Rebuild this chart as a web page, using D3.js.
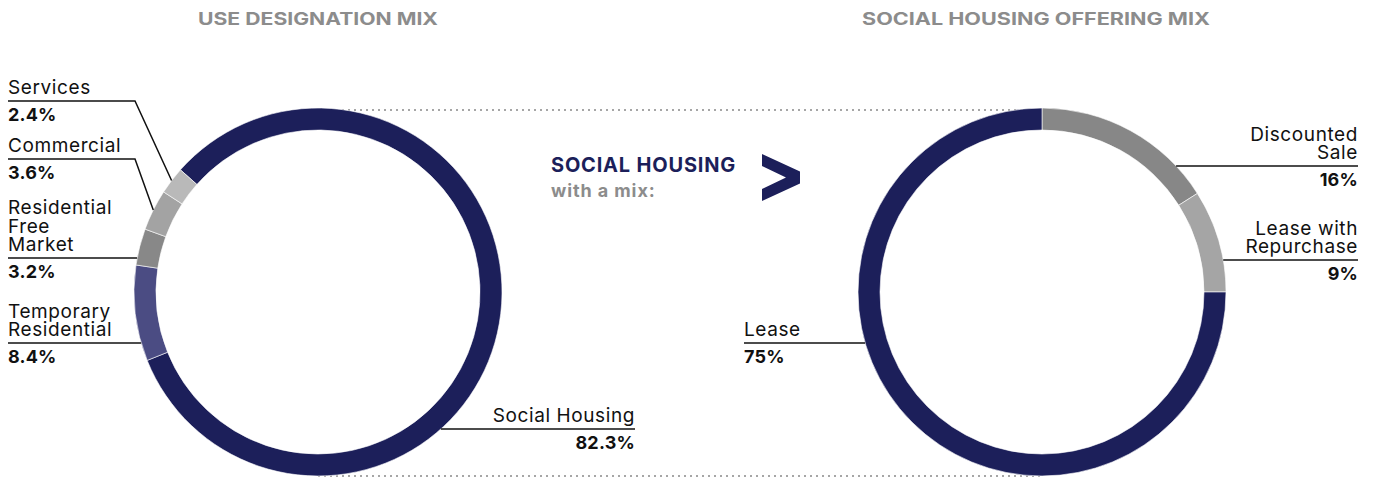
<!DOCTYPE html>
<meta charset="utf-8">
<script src="https://d3js.org/d3.v7.min.js"></script>
<style>
  body { margin: 0; background: #fff; }
  svg text { font-family: Inter, "Noto Sans", sans-serif; }
</style>
<div id="my_dataviz"></div>
<script>

// data
var useCategories = ["Social Housing", "Temporary Residential", "Residential Free Market", "Commercial", "Services"];
var useValues = [82.3, 8.4, 3.2, 3.6, 2.4];
var useLabels = ["82.3%", "8.4%", "3.2%", "3.6%", "2.4%"];

var offerCategories = ["Discounted Sale", "Lease with Repurchase", "Lease"];
var offerValues = [16, 9, 75];
var offerLabels = ["16%", "9%", "75%"];

var titles = ["USE DESIGNATION MIX", "SOCIAL HOUSING OFFERING MIX"];

// dimensions
var width = 1378, height = 481;
var outerR = 184, innerR = 162;
var leftC = {x: 318, y: 292}, rightC = {x: 1042, y: 292};

var svg = d3.select("#my_dataviz")
  .append("svg")
    .attr("width", width)
    .attr("height", height);

var useColor = d3.scaleOrdinal()
  .domain(useCategories)
  .range(["#1c1f5a", "#4b4c83", "#888888", "#a3a3a3", "#b9b9b9"]);

var offerColor = d3.scaleOrdinal()
  .domain(offerCategories)
  .range(["#878787", "#a5a5a5", "#1c1f5a"]);

// dotted connectors behind the rings
[leftC.y - outerR + 2, leftC.y + outerR].forEach(function(y) {
  svg.append("line")
    .attr("x1", leftC.x).attr("x2", rightC.x)
    .attr("y1", y).attr("y2", y)
    .attr("stroke", "#a6a6a6")
    .attr("stroke-width", 2)
    .attr("stroke-dasharray", "2 4");
});

var arc = d3.arc().innerRadius(innerR).outerRadius(outerR);

function donut(center, cats, values, color, start) {
  var pie = d3.pie().sort(null).value(function(d) { return d; })
    .startAngle(start).endAngle(start + 2 * Math.PI);
  var arcs = pie(values);
  var g = svg.append("g")
    .attr("transform", "translate(" + center.x + "," + center.y + ")");
  g.selectAll("path")
    .data(arcs)
    .enter()
    .append("path")
      .attr("d", arc)
      .attr("fill", function(d, i) { return color(cats[i]); })
      .attr("stroke", "#fff")
      .attr("stroke-width", 0.6);
  return arcs;
}

var useArcs = donut(leftC, useCategories, useValues, useColor, -48.4 * Math.PI / 180);
var offerArcs = donut(rightC, offerCategories, offerValues, offerColor, 0);

// label layout: name lines, anchor x, line y, optional elbow
var useLayout = [
  {lines: ["Social Housing"], x: 635, anchor: "end", lineY: 429},
  {lines: ["Temporary", "Residential"], x: 8, anchor: "start", lineY: 343},
  {lines: ["Residential", "Free", "Market"], x: 8, anchor: "start", lineY: 258},
  {lines: ["Commercial"], x: 8, anchor: "start", lineY: 159, elbow: 135},
  {lines: ["Services"], x: 8, anchor: "start", lineY: 101, elbow: 135}
];
var offerLayout = [
  {lines: ["Discounted", "Sale"], x: 1358, anchor: "end", lineY: 166},
  {lines: ["Lease with", "Repurchase"], x: 1358, anchor: "end", lineY: 260},
  {lines: ["Lease"], x: 744, anchor: "start", lineY: 343}
];

function labels(center, arcs, layout, pcts) {
  layout.forEach(function(l, i) {
    var a = arcs[i];
    var pts;
    if (l.elbow !== undefined) {
      var mid = (a.startAngle + a.endAngle) / 2;
      var tx = center.x + outerR * Math.sin(mid),
          ty = center.y - outerR * Math.cos(mid);
      pts = [[l.x, l.lineY], [l.elbow, l.lineY], [tx, ty]];
    } else {
      var dy = l.lineY - center.y;
      var dx = Math.sqrt(outerR * outerR - dy * dy);
      var mid2 = (a.startAngle + a.endAngle) / 2;
      var ex = Math.sin(mid2) < 0 ? center.x - dx : center.x + dx;
      pts = [[l.x, l.lineY], [ex, l.lineY]];
    }
    svg.append("path")
      .attr("d", d3.line()(pts))
      .attr("fill", "none")
      .attr("stroke", "#111")
      .attr("stroke-width", 1.5);

    // multi-line name as one text block
    var n = l.lines.length;
    var txt = svg.append("text")
      .attr("text-anchor", l.anchor)
      .attr("font-size", "19px")
      .attr("letter-spacing", "0.6px")
      .attr("fill", "#111");
    l.lines.forEach(function(t, j) {
      txt.append("tspan")
        .attr("x", l.x)
        .attr("y", l.lineY - 7 - (n - 1 - j) * 18.5)
        .text(t);
    });

    svg.append("text")
      .attr("x", l.x)
      .attr("y", l.lineY + 20)
      .attr("text-anchor", l.anchor)
      .attr("font-size", "18px")
      .attr("font-weight", 700)
      .attr("letter-spacing", "0.2px")
      .attr("fill", "#111")
      .text(pcts[i]);
  });
}

labels(leftC, useArcs, useLayout, useLabels);
labels(rightC, offerArcs, offerLayout, offerLabels);

// titles
svg.append("text")
  .attr("x", leftC.x).attr("y", 25)
  .attr("text-anchor", "middle")
  .attr("font-size", "17px")
  .attr("font-weight", 700)
  .attr("fill", "#8c8c8c")
  .attr("textLength", 240)
  .attr("lengthAdjust", "spacingAndGlyphs")
  .text(titles[0]);

svg.append("text")
  .attr("x", 1036).attr("y", 25)
  .attr("text-anchor", "middle")
  .attr("font-size", "17px")
  .attr("font-weight", 700)
  .attr("fill", "#8c8c8c")
  .attr("textLength", 348)
  .attr("lengthAdjust", "spacingAndGlyphs")
  .text(titles[1]);

// middle note
svg.append("text")
  .attr("x", 551).attr("y", 172)
  .attr("font-size", "20px")
  .attr("font-weight", 700)
  .attr("letter-spacing", "0.8px")
  .attr("fill", "#1c1f5a")
  .text("SOCIAL HOUSING");

svg.append("text")
  .attr("x", 551).attr("y", 197)
  .attr("font-size", "18px")
  .attr("font-weight", 700)
  .attr("letter-spacing", "0.9px")
  .attr("fill", "#8c8c8c")
  .text("with a mix:");

svg.append("path")
  .attr("d", "M762,154 L800,171.5 L800,183.5 L762,201 L762,189 L786,177.5 L762,166 Z")
  .attr("fill", "#1c1f5a");

</script>
